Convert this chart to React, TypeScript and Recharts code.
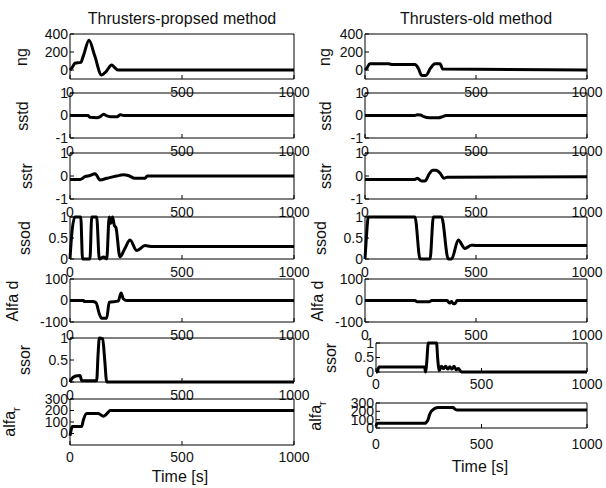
import React from "react";
import { LineChart, Line, XAxis, YAxis, ReferenceArea } from "recharts";

// time axis ticks shared by every subplot
const timeTicks = [0, 500, 1000];

// proposed method (left column)
const ngNewT = [0, 10, 22, 48, 60, 85, 110, 141, 160, 186, 200, 215, 1000];
const ngNewV = [0, 30, 75, 85, 160, 330, 160, -55, -20, 55, 25, 0, 0];
const sstdNewT = [0, 80, 90, 120, 135, 150, 165, 180, 210, 225, 240, 1000];
const sstdNewV = [0, 0, -0.08, -0.1, -0.05, 0.06, -0.02, -0.05, -0.05, 0.03, 0, 0];
const sstrNewT = [0, 45, 67, 90, 112, 134, 164, 208, 238, 260, 290, 335, 345, 1000];
const sstrNewV = [-0.15, -0.15, -0.03, 0.02, 0.1, -0.17, -0.1, 0, 0.05, 0.02, -0.1, -0.1, 0, 0];
const ssodNewT = [0, 8, 22, 48, 56, 89, 97, 119, 131, 150, 164, 175, 182, 190, 198, 205, 223, 245, 268, 298, 335, 360, 1000];
const ssodNewV = [0, 0.6, 1, 1, 0, 0, 1, 1, 0, 0.05, 0, 1, 0.85, 1, 0.8, 0.75, 0.05, 0.25, 0.45, 0.2, 0.32, 0.3, 0.3];
const alfaDNewT = [0, 60, 65, 100, 116, 131, 141, 164, 175, 215, 228, 238, 253, 1000];
const alfaDNewV = [0, 0, -5, -5, -10, -63, -82, -82, -8, -3, 35, 8, 0, 0];
const ssorNewT = [0, 5, 22, 45, 52, 119, 125, 131, 146, 155, 164, 1000];
const ssorNewV = [0, 0.05, 0.13, 0.15, 0.03, 0.03, 0.6, 1, 0.98, 0.5, 0, 0];
const alfaRNewT = [0, 5, 10, 52, 60, 75, 126, 149, 164, 179, 1000];
const alfaRNewV = [-20, 30, 60, 60, 120, 175, 175, 150, 170, 200, 200];

// old method (right column)
const ngOldT = [0, 8, 22, 104, 120, 225, 240, 255, 275, 295, 315, 338, 350, 1000];
const ngOldV = [0, 20, 70, 70, 62, 62, 20, -60, -60, 20, 70, 70, 10, 0];
const sstdOldT = [0, 225, 235, 250, 265, 290, 330, 350, 365, 1000];
const sstdOldV = [0, 0, 0.03, 0.02, -0.05, -0.1, -0.1, -0.05, 0, 0];
const sstrOldT = [0, 225, 235, 255, 270, 290, 305, 320, 340, 355, 370, 1000];
const sstrOldV = [-0.15, -0.15, -0.1, -0.22, -0.22, 0.1, 0.25, 0.25, 0.1, -0.1, -0.05, -0.03];
const ssodOldT = [0, 6, 15, 225, 248, 293, 308, 345, 375, 390, 420, 450, 480, 500, 1000];
const ssodOldV = [0, 0.5, 1, 1, 0, 0, 1, 1, 0, 0, 0.45, 0.25, 0.33, 0.32, 0.32];
const alfaDOldT = [0, 225, 235, 290, 300, 370, 380, 390, 398, 405, 415, 1000];
const alfaDOldV = [0, 0, -6, -6, 0, 0, -12, -5, -15, -15, 0, 0];
const ssorOldT = [0, 5, 14, 230, 235, 240, 248, 287, 292, 300, 310, 320, 330, 340, 350, 360, 370, 380, 390, 405, 1000];
const ssorOldV = [0, 0, 0.17, 0.17, 0, 0.3, 1, 1, 0.5, 0.05, 0.2, 0.12, 0.2, 0.1, 0.18, 0.1, 0.2, 0.08, 0.12, 0, 0];
const alfaROldT = [0, 3, 8, 230, 245, 254, 262, 295, 365, 375, 385, 1000];
const alfaROldV = [20, 45, 56, 56, 90, 160, 200, 245, 245, 225, 215, 215];

const zip = (ts: number[], vs: number[]) => ts.map((t, i) => ({ t, v: vs[i] }));

const FONT = '"Liberation Sans", Arial, sans-serif';

type Panel = {
  label: React.ReactNode;
  data: { t: number; v: number }[];
  domain: [number, number];
  ticks: number[];
  x: number;
  y: number;
  w: number;
  h: number;
  labelX: number;
  xGap: number;
};

const ML = 60;
const MR = 30;
const MT = 12;
const MB = 30;

const Sub = ({ p }: { p: Panel }) => (
  <>
    <div style={{ position: "absolute", left: p.x - ML, top: p.y - MT }}>
      <LineChart
        width={p.w + ML + MR}
        height={p.h + MT + MB}
        data={p.data}
        margin={{ top: MT, right: MR, left: 0, bottom: 0 }}
      >
        <XAxis
          dataKey="t"
          type="number"
          domain={[0, 1000]}
          ticks={timeTicks}
          interval={0}
          height={MB}
          axisLine={false}
          tickSize={-4}
          tickMargin={4 + p.xGap}
          tickLine={{ stroke: "#000" }}
          tick={{ fill: "#111", fontSize: 14 }}
        />
        <YAxis
          type="number"
          domain={p.domain}
          ticks={p.ticks}
          interval={0}
          width={ML}
          axisLine={false}
          tickSize={-4}
          tickMargin={6}
          tickLine={{ stroke: "#000" }}
          tick={{ fill: "#111", fontSize: 14 }}
        />
        <ReferenceArea
          x1={0}
          x2={1000}
          y1={p.domain[0]}
          y2={p.domain[1]}
          fill="none"
          stroke="#000"
          strokeWidth={1}
        />
        <Line
          dataKey="v"
          type="monotone"
          stroke="#000"
          strokeWidth={3}
          dot={false}
          isAnimationActive={false}
        />
      </LineChart>
    </div>
    <div
      style={{
        position: "absolute",
        left: p.labelX,
        top: p.y + p.h / 2,
        transform: "translate(-50%, -50%) rotate(-90deg)",
        fontSize: 16,
        lineHeight: 1,
        whiteSpace: "nowrap",
        color: "#111",
      }}
    >
      {p.label}
    </div>
  </>
);

const alfaR = (
  <span>
    alfa<sub style={{ fontSize: 11 }}>r</sub>
  </span>
);

const LX = 70, LW = 224;
const RX = 365, RW = 222;
const RX2 = 376, RW2 = 211;

const panels: Panel[] = [
  { label: "ng", data: zip(ngNewT, ngNewV), domain: [-100, 400], ticks: [0, 200, 400], x: LX, y: 34, w: LW, h: 45, labelX: 22, xGap: 8 },
  { label: "sstd", data: zip(sstdNewT, sstdNewV), domain: [-1, 1], ticks: [-1, 0, 1], x: LX, y: 93, w: LW, h: 45, labelX: 23, xGap: 8 },
  { label: "sstr", data: zip(sstrNewT, sstrNewV), domain: [-1, 1], ticks: [-1, 0, 1], x: LX, y: 153, w: LW, h: 46, labelX: 27, xGap: 8 },
  { label: "ssod", data: zip(ssodNewT, ssodNewV), domain: [0, 1], ticks: [0, 0.5, 1], x: LX, y: 217, w: LW, h: 42, labelX: 25, xGap: 8 },
  { label: "Alfa d", data: zip(alfaDNewT, alfaDNewV), domain: [-100, 100], ticks: [-100, 0, 100], x: LX, y: 279, w: LW, h: 43, labelX: 13, xGap: 8 },
  { label: "ssor", data: zip(ssorNewT, ssorNewV), domain: [0, 1], ticks: [0, 0.5, 1], x: LX, y: 338, w: LW, h: 44, labelX: 25, xGap: 8 },
  { label: alfaR, data: zip(alfaRNewT, alfaRNewV), domain: [-100, 300], ticks: [0, 100, 200, 300], x: LX, y: 399, w: LW, h: 46, labelX: 12, xGap: 7 },
  { label: "ng", data: zip(ngOldT, ngOldV), domain: [-100, 400], ticks: [0, 200, 400], x: RX, y: 34, w: RW, h: 45, labelX: 325, xGap: 8 },
  { label: "sstd", data: zip(sstdOldT, sstdOldV), domain: [-1, 1], ticks: [-1, 0, 1], x: RX, y: 93, w: RW, h: 45, labelX: 326, xGap: 8 },
  { label: "sstr", data: zip(sstrOldT, sstrOldV), domain: [-1, 1], ticks: [-1, 0, 1], x: RX, y: 153, w: RW, h: 46, labelX: 326, xGap: 8 },
  { label: "ssod", data: zip(ssodOldT, ssodOldV), domain: [0, 1], ticks: [0, 0.5, 1], x: RX, y: 217, w: RW, h: 42, labelX: 321, xGap: 8 },
  { label: "Alfa d", data: zip(alfaDOldT, alfaDOldV), domain: [-100, 100], ticks: [-100, 0, 100], x: RX, y: 279, w: RW, h: 43, labelX: 318, xGap: 8 },
  { label: "ssor", data: zip(ssorOldT, ssorOldV), domain: [0, 1], ticks: [0, 0.5, 1], x: RX2, y: 343, w: RW2, h: 29, labelX: 331, xGap: 7 },
  { label: alfaR, data: zip(alfaROldT, alfaROldV), domain: [0, 300], ticks: [0, 100, 200, 300], x: RX2, y: 403, w: RW2, h: 25, labelX: 318, xGap: 11 },
];

const Txt = ({ x, y, children }: { x: number; y: number; children: React.ReactNode }) => (
  <div
    style={{
      position: "absolute",
      left: x,
      top: y,
      transform: "translate(-50%, -50%)",
      fontSize: 16,
      lineHeight: 1,
      whiteSpace: "nowrap",
      color: "#111",
    }}
  >
    {children}
  </div>
);

export default function App() {
  return (
    <div
      style={{
        position: "absolute",
        left: 0,
        top: 0,
        width: 606,
        height: 488,
        background: "#fff",
        fontFamily: FONT,
        overflow: "hidden",
      }}
    >
      {panels.map((p, i) => (
        <Sub key={i} p={p} />
      ))}
      <Txt x={182} y={19}>Thrusters-propsed method</Txt>
      <Txt x={476} y={19}>Thrusters-old method</Txt>
      <Txt x={180} y={477}>Time [s]</Txt>
      <Txt x={480} y={467}>Time [s]</Txt>
    </div>
  );
}
